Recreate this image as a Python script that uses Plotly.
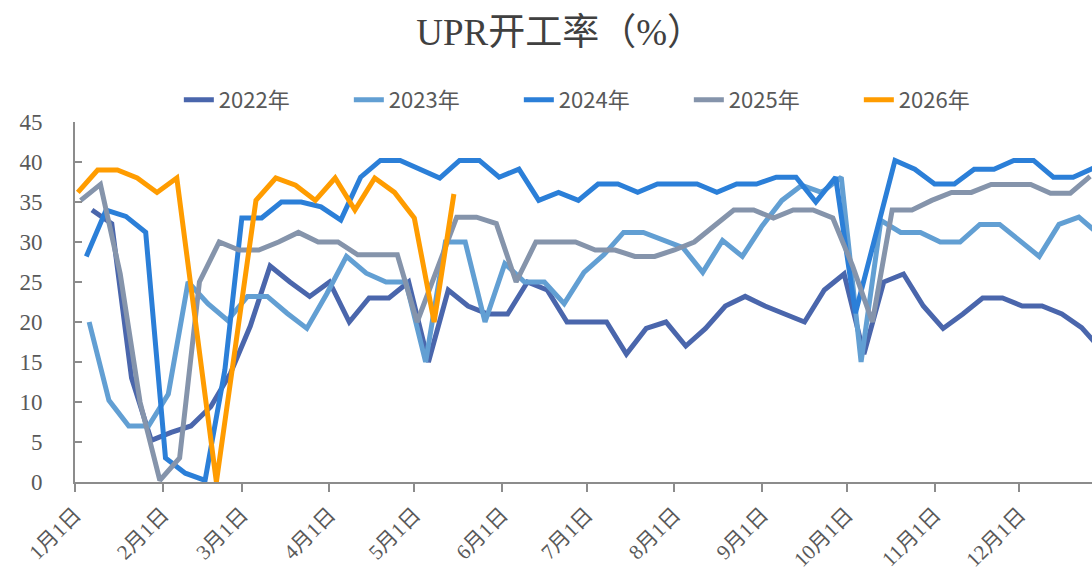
import pandas as pd
import plotly.graph_objects as go

BASE_YEAR = 2021

names = ["2022年", "2023年", "2024年", "2025年", "2026年"]
start_dates = ["2022-01-07", "2023-01-06", "2024-01-05", "2025-01-03", "2026-01-02"]
colors = ["#4A66AC", "#629FD3", "#2B7FD8", "#8594AB", "#FF9C00"]

v2022 = [34, 32.3, 13, 5.2, 6.2, 7, 9.4, 13.6, 19.5, 27, 25, 23.2, 25, 20, 23, 23, 25, 15,
         24, 22, 21, 21, 25, 24, 20, 20, 20, 16, 19.2, 20, 17, 19.2, 22, 23.2, 22, 21, 20,
         24, 26, 16, 25, 26, 22, 19.2, 21, 23, 23, 22, 22, 21, 19.3, 16.5]
v2023 = [20, 10.2, 7, 7, 11, 25, 22.3, 20.2, 23.2, 23.2, 21.1, 19.2, 23.5, 28.2, 26.1, 25,
         25, 15, 30, 30, 20, 27.3, 25, 25, 22.3, 26.2, 28.4, 31.2, 31.2, 30.3, 29.3, 26.2,
         30.2, 28.2, 32, 35.2, 37.1, 36.2, 38.1, 15, 32.7, 31.2, 31.2, 30, 30, 32.2, 32.2,
         30.2, 28.2, 32.2, 33.1, 31]
v2024 = [28.2, 34, 33.2, 31.2, 3, 1.1, 0.2, 14, 33, 33, 35, 35, 34.4, 32.75, 38.1, 40.2,
         40.2, 39.1, 38, 40.2, 40.2, 38.1, 39.1, 35.2, 36.2, 35.2, 37.25, 37.25, 36.2,
         37.25, 37.25, 37.25, 36.2, 37.25, 37.25, 38.1, 38.1, 35, 38.1, 21.1, None, 40.2,
         39.1, 37.25, 37.25, 39.1, 39.1, 40.2, 40.2, 38.1, 38.1, 39.2]
v2025 = [35.2, 37.2, 26, 10, 0.2, 3, 25, 30, 29, 29, 30, 31.2, 30, 30, 28.4, 28.4, 28.4, 20,
         26.5, 33.1, 33.1, 32.3, 25, 30, 30, 30, 29, 29, 28.2, 28.2, 29, 30, 32, 34, 34, 33,
         34, 34, 33, 27, 20, 34, 34, 35.2, 36.2, 36.2, 37.2, 37.2, 37.2, 36.1, 36.1, 38.2]
v2026 = [36.2, 39, 39, 38, 36.2, 38, None, 0, None, 35.2, 38, 37.1, 35.2, 38, 34, 38, 36.2,
         33, 20, 36]
series_values = [v2022, v2023, v2024, v2025, v2026]

tick_dates = ["2021-01-01", "2021-02-01", "2021-03-01", "2021-04-01", "2021-05-01", "2021-06-01",
              "2021-07-01", "2021-08-01", "2021-09-01", "2021-10-01", "2021-11-01", "2021-12-01"]
tick_labels = ["1月1日", "2月1日", "3月1日", "4月1日", "5月1日", "6月1日",
               "7月1日", "8月1日", "9月1日", "10月1日", "11月1日", "12月1日"]

fig = go.Figure()
for name, start, color, vals in zip(names, start_dates, colors, series_values):
    dates = pd.date_range(start, periods=len(vals), freq="7D")
    xs = [d.replace(year=BASE_YEAR) for d in dates]
    fig.add_trace(go.Scatter(x=xs, y=vals, mode="lines", name=name, connectgaps=True,
                             line=dict(color=color, width=5)))

axis_color = "#8C8C8C"
fig.update_layout(
    width=1092, height=579, autosize=False,
    margin=dict(l=75, r=0, t=122, b=97),
    paper_bgcolor="white", plot_bgcolor="white",
    title=dict(text="UPR开工率（%）", x=0.513, xanchor="center", y=0.945, yanchor="middle",
               xref="container", yref="container",
               font=dict(family="Liberation Serif, Noto Sans CJK SC", size=37, color="#404040")),
    legend=dict(orientation="h", x=0.52, xanchor="center", y=1.061, yanchor="middle",
                font=dict(family="Noto Sans CJK SC", size=22, color="#595959"),
                entrywidth=125, entrywidthmode="pixels", bgcolor="rgba(0,0,0,0)"),
    showlegend=True,
)
fig.update_xaxes(
    type="date", range=["2021-01-01", "2021-12-26 16:00"], automargin=False,
    tickmode="array", tickvals=tick_dates, ticktext=tick_labels, tickangle=-45,
    ticks="outside", ticklen=8, tickwidth=2, tickcolor=axis_color,
    showline=True, linecolor=axis_color, linewidth=2, showgrid=False, zeroline=False,
    ticklabelstandoff=2,
    tickfont=dict(family="Liberation Serif, Noto Sans CJK SC", size=21, color="#595959"),
)
fig.update_yaxes(
    range=[0, 45], dtick=5, tick0=0, automargin=False,
    ticks="inside", ticklen=7, tickwidth=2, tickcolor=axis_color,
    showline=True, linecolor=axis_color, linewidth=2, showgrid=False, zeroline=False,
    ticklabelstandoff=26,
    tickfont=dict(family="Liberation Serif", size=23, color="#595959"),
)

fig.write_html("out.html", config={"displayModeBar": False},
               post_script="document.body.style.margin='0';")
